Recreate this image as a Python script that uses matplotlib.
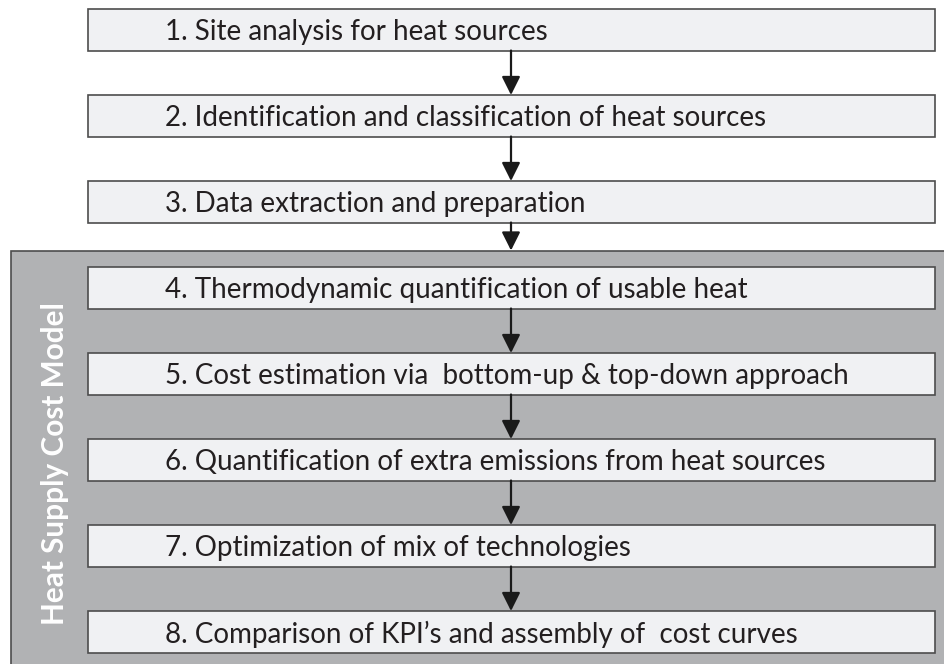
import matplotlib.pyplot as plt
from matplotlib.patches import Rectangle, FancyArrowPatch

steps = [
    "1. Site analysis for heat sources",
    "2. Identification and classification of heat sources",
    "3. Data extraction and preparation",
    "4. Thermodynamic quantification of usable heat",
    "5. Cost estimation via  bottom-up & top-down approach",
    "6. Quantification of extra emissions from heat sources",
    "7. Optimization of mix of technologies",
    "8. Comparison of KPI\u2019s and assembly of  cost curves",
]
group_label = "Heat Supply Cost Model"
group_first = 3  # index of first step inside the grey block

W, H = 944, 664
fig = plt.figure(figsize=(W / 100, H / 100), dpi=100)
ax = fig.add_axes([0, 0, 1, 1])
ax.set_xlim(0, W)
ax.set_ylim(H, 0)
ax.axis("off")

box_x0, box_x1 = 88, 935
box_h = 41.5
top0 = 9
step = 86.0
edge = "#4d4d4d"
fill = "#f0f1f3"
txt_col = "#231f20"
font = "Lato"

# grey block
grp_top = 250.5
ax.add_patch(Rectangle((11, grp_top), W + 20 - 11, H + 20 - grp_top,
                       facecolor="#b1b2b4", edgecolor=edge, lw=1.2, zorder=1))
ax.text(55, 464, group_label, rotation=90, ha="center", va="center",
        color="white", fontsize=21.4, fontweight="bold", family=font, zorder=3)

tops = [top0 + i * step for i in range(len(steps))]
for i, (t, s) in enumerate(zip(tops, steps)):
    ax.add_patch(Rectangle((box_x0, t), box_x1 - box_x0, box_h,
                           facecolor=fill, edgecolor=edge, lw=1.2, zorder=2))
    ax.text(165, t + box_h / 2 + 2.5, s, ha="left", va="center", color=txt_col,
            fontsize=20.0, family=font, zorder=3)
    if i < len(steps) - 1:
        y0 = t + box_h
        y1 = grp_top if i + 1 == group_first else tops[i + 1]
        ax.add_patch(FancyArrowPatch((511, y0), (511, y1), arrowstyle="-|>",
                                     mutation_scale=28, lw=1.6, color="#1a1a1a",
                                     shrinkA=0, shrinkB=0, zorder=4))

fig.savefig("out.png", dpi=100, facecolor="white")
